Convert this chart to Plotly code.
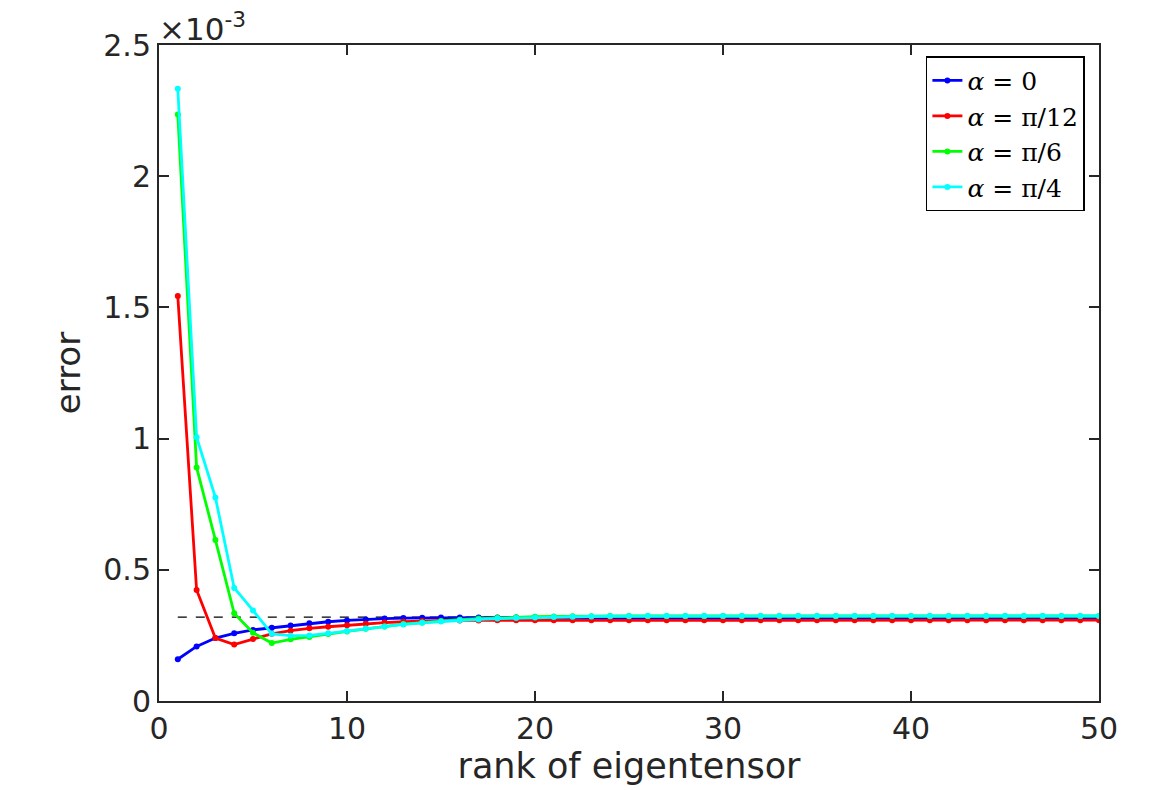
import plotly.graph_objects as go

# error (x 1e-3) against the rank of the eigentensor, for four angles
rank = list(range(1, 51))

err_a0 = [0.159, 0.208, 0.240, 0.258, 0.271, 0.279, 0.288, 0.296, 0.302, 0.307,
          0.311, 0.314, 0.316, 0.317, 0.318, 0.318, 0.318, 0.318, 0.318, 0.318,
          0.318, 0.318, 0.318, 0.318, 0.318, 0.318, 0.318, 0.318, 0.318, 0.318,
          0.318, 0.318, 0.318, 0.318, 0.318, 0.318, 0.318, 0.318, 0.318, 0.318,
          0.318, 0.318, 0.318, 0.318, 0.318, 0.318, 0.318, 0.318, 0.318, 0.318]

err_pi12 = [1.543, 0.423, 0.240, 0.215, 0.236, 0.256, 0.268, 0.277, 0.283, 0.289,
            0.294, 0.299, 0.302, 0.305, 0.306, 0.307, 0.307, 0.308, 0.308, 0.308,
            0.308, 0.308, 0.308, 0.308, 0.308, 0.308, 0.308, 0.308, 0.308, 0.308,
            0.308, 0.308, 0.308, 0.308, 0.308, 0.308, 0.308, 0.308, 0.308, 0.308,
            0.308, 0.308, 0.308, 0.308, 0.308, 0.308, 0.308, 0.308, 0.308, 0.308]

err_pi6 = [2.235, 0.890, 0.614, 0.334, 0.260, 0.221, 0.235, 0.244, 0.255, 0.265,
           0.275, 0.284, 0.293, 0.299, 0.305, 0.310, 0.314, 0.317, 0.319, 0.321,
           0.322, 0.323, 0.323, 0.324, 0.324, 0.324, 0.324, 0.324, 0.324, 0.324,
           0.324, 0.324, 0.324, 0.324, 0.324, 0.324, 0.324, 0.324, 0.324, 0.324,
           0.324, 0.324, 0.324, 0.324, 0.324, 0.324, 0.324, 0.324, 0.324, 0.324]

err_pi4 = [2.333, 1.005, 0.776, 0.431, 0.345, 0.256, 0.249, 0.250, 0.258, 0.267,
           0.276, 0.284, 0.292, 0.298, 0.303, 0.308, 0.311, 0.314, 0.316, 0.318,
           0.320, 0.321, 0.322, 0.323, 0.323, 0.324, 0.324, 0.324, 0.324, 0.324,
           0.324, 0.324, 0.324, 0.324, 0.324, 0.324, 0.324, 0.324, 0.324, 0.324,
           0.324, 0.324, 0.324, 0.324, 0.324, 0.324, 0.324, 0.324, 0.324, 0.324]

ref_x = [1, 50]
ref_err = [0.320, 0.320]

names = ["<i>α</i> = 0", "<i>α</i> = π/12", "<i>α</i> = π/6", "<i>α</i> = π/4"]
colors = ["#0000ff", "#ff0000", "#00ff00", "#00ffff"]
series = [err_a0, err_pi12, err_pi6, err_pi4]

axis_color = "#262626"

fig = go.Figure()

fig.add_trace(go.Scatter(x=ref_x, y=ref_err, mode="lines",
                         line=dict(color="black", width=1.2, dash="dash"),
                         showlegend=False, hoverinfo="skip"))

for name, col, err in zip(names, colors, series):
    fig.add_trace(go.Scatter(x=rank, y=err, mode="lines+markers", name=name,
                             line=dict(color=col, width=2.8),
                             marker=dict(color=col, size=6)))

fig.update_xaxes(range=[0, 50], tickvals=[0, 10, 20, 30, 40, 50],
                 showline=True, linecolor=axis_color, linewidth=2, mirror="allticks",
                 ticks="inside", ticklen=10, tickwidth=1.5, tickcolor=axis_color,
                 showgrid=False, zeroline=False,
                 tickfont=dict(size=30, color=axis_color),
                 title=dict(text="rank of eigentensor", standoff=4,
                            font=dict(size=35, color=axis_color)))

fig.update_yaxes(range=[0, 2.5], tickvals=[0, 0.5, 1, 1.5, 2, 2.5],
                 ticktext=["0", "0.5", "1", "1.5", "2", "2.5"],
                 showline=True, linecolor=axis_color, linewidth=2, mirror="allticks",
                 ticks="inside", ticklen=10, tickwidth=1.5, tickcolor=axis_color,
                 showgrid=False, zeroline=False,
                 tickfont=dict(size=30, color=axis_color),
                 title=dict(text="error", standoff=12,
                            font=dict(size=34, color=axis_color)))

# MATLAB-style exponent label above the y axis
fig.add_annotation(x=0, y=1, xref="paper", yref="paper", xanchor="left", yanchor="bottom",
                   text="×10<sup>-3</sup>", showarrow=False, xshift=-2, yshift=-4,
                   font=dict(size=31, color=axis_color))

fig.update_layout(
    width=1155, height=790,
    margin=dict(l=151, r=64, t=37, b=97),
    paper_bgcolor="white", plot_bgcolor="white",
    font=dict(family="DejaVu Sans", color=axis_color),
    legend=dict(x=0.985, y=0.983, xanchor="right", yanchor="top",
                bgcolor="white", bordercolor="black", borderwidth=1.5,
                font=dict(family="DejaVu Serif", size=25, color="black"),
                itemwidth=30, tracegroupgap=0),
)

fig.write_html("out.html")
